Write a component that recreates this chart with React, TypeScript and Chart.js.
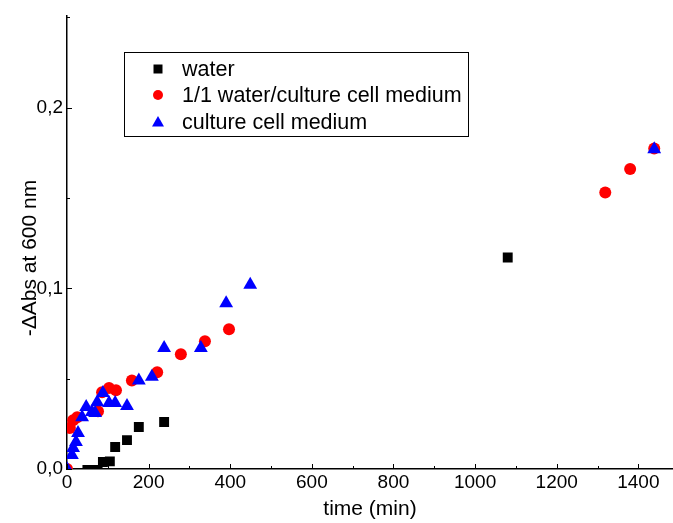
import React, { useEffect, useRef } from 'react';
import { Chart, registerables } from 'chart.js';

Chart.register(...registerables);

// ---- data (time in min, -ΔAbs at 600 nm) ----
const waterTime = [50, 62, 75, 88, 105, 118, 147, 176, 238, 1080];
const waterAbs = [-0.0005, -0.0005, -0.0005, 0.0039, 0.0042, 0.0122, 0.016, 0.0232, 0.026, 0.117];

const mixTime = [0, 7, 15, 25, 76, 86, 103, 120, 159, 221, 279, 338, 397, 1319, 1380, 1439];
const mixAbs = [0, 0.0227, 0.027, 0.0287, 0.032, 0.0425, 0.0448, 0.0436, 0.049, 0.0536, 0.0635, 0.0707, 0.0773, 0.153, 0.166, 0.1773];

const mediumTime = [0, 12, 15, 22, 27, 37, 47, 61, 69, 74, 88, 103, 118, 147, 176, 208, 238, 328, 390, 449, 1439];
const mediumAbs = [0, 0.0077, 0.0116, 0.0149, 0.0199, 0.0287, 0.0343, 0.0315, 0.031, 0.037, 0.042, 0.0365, 0.0365, 0.0348, 0.049, 0.051, 0.0669, 0.0669, 0.0917, 0.102, 0.177];

const seriesLabels = ['water', '1/1 water/culture cell medium', 'culture cell medium'];
const seriesColors = ['#000000', '#ff0000', '#0000ff'];
const seriesStyles = ['rect', 'circle', 'triangle'];

const xTitle = 'time (min)';
const yTitle = '-ΔAbs at 600 nm';

const xMin = 0;
const xMax = 1485;
const xMajorStep = 200;
const xMinorStep = 100;
const yMin = 0;
const yMax = 0.251;
const yMajorStep = 0.1;
const yMinorStep = 0.05;

const FONT = '"Liberation Sans", Arial, sans-serif';

const toPoints = (xs: number[], ys: number[]) => xs.map((x, i) => ({ x, y: ys[i] }));

const decorPlugin = {
  id: 'decor',
  afterDraw(chart: any) {
    const { ctx, chartArea } = chart;
    const xs = chart.scales.x;
    const ys = chart.scales.y;
    ctx.save();
    ctx.strokeStyle = '#000';
    ctx.lineWidth = 1;
    // inside tick marks on x
    const nx = Math.floor((xMax - xMin) / xMinorStep + 1e-9);
    for (let k = 0; k <= nx; k++) {
      const v = xMin + k * xMinorStep;
      const px = Math.round(xs.getPixelForValue(v)) + 0.5;
      const len = Math.abs(v / xMajorStep - Math.round(v / xMajorStep)) < 1e-6 ? 5 : 3;
      ctx.beginPath();
      ctx.moveTo(px, chartArea.bottom);
      ctx.lineTo(px, chartArea.bottom - len);
      ctx.stroke();
    }
    // inside tick marks on y
    const ny = Math.floor((yMax - yMin) / yMinorStep + 1e-9);
    for (let k = 0; k <= ny; k++) {
      const v = yMin + k * yMinorStep;
      const py = Math.round(ys.getPixelForValue(v)) + 0.5;
      const len = Math.abs(v / yMajorStep - Math.round(v / yMajorStep)) < 1e-6 ? 5 : 3;
      ctx.beginPath();
      ctx.moveTo(chartArea.left, py);
      ctx.lineTo(chartArea.left + len, py);
      ctx.stroke();
    }

    // y axis title
    ctx.save();
    ctx.translate(30, 258);
    ctx.rotate(-Math.PI / 2);
    ctx.font = `21px ${FONT}`;
    ctx.fillStyle = '#000';
    ctx.textAlign = 'center';
    ctx.textBaseline = 'middle';
    ctx.fillText(yTitle, 0, 0);
    ctx.restore();

    // legend box
    const bx = 124.5, by = 52.5, bw = 344, bh = 84;
    ctx.strokeStyle = '#000';
    ctx.lineWidth = 1;
    ctx.strokeRect(bx, by, bw, bh);
    const rows = [69, 95, 122];
    const mx = 158;
    const tx = 182;
    ctx.font = `21.5px ${FONT}`;
    ctx.textBaseline = 'middle';
    ctx.textAlign = 'left';
    chart.data.datasets.forEach((ds: any, i: number) => {
      const cy = rows[i];
      ctx.fillStyle = ds.backgroundColor;
      ctx.beginPath();
      if (ds.pointStyle === 'rect') {
        ctx.rect(mx - 4.5, cy - 4.5, 9, 9);
      } else if (ds.pointStyle === 'circle') {
        ctx.arc(mx, cy, 5, 0, Math.PI * 2);
      } else {
        ctx.moveTo(mx, cy - 6);
        ctx.lineTo(mx + 6, cy + 4.5);
        ctx.lineTo(mx - 6, cy + 4.5);
        ctx.closePath();
      }
      ctx.fill();
      ctx.fillStyle = '#000';
      ctx.fillText(ds.label, tx, cy + 1);
    });
    ctx.restore();
  },
};

export default function App() {
  const canvasRef = useRef<HTMLCanvasElement | null>(null);

  useEffect(() => {
    document.body.style.margin = '0';
    const canvas = canvasRef.current;
    if (!canvas) return;
    const chart = new Chart(canvas, {
      type: 'scatter',
      data: {
        datasets: [
          {
            label: seriesLabels[0],
            data: toPoints(waterTime, waterAbs),
            pointStyle: seriesStyles[0] as any,
            pointRadius: 7,
            backgroundColor: seriesColors[0],
            borderWidth: 0,
            borderColor: seriesColors[0],
            order: 2,
            clip: 0,
          },
          {
            label: seriesLabels[1],
            data: toPoints(mixTime, mixAbs),
            pointStyle: seriesStyles[1] as any,
            pointRadius: 6,
            backgroundColor: seriesColors[1],
            borderWidth: 0,
            borderColor: seriesColors[1],
            order: 1,
            clip: 0,
          },
          {
            label: seriesLabels[2],
            data: toPoints(mediumTime, mediumAbs),
            pointStyle: seriesStyles[2] as any,
            pointRadius: 8,
            backgroundColor: seriesColors[2],
            borderWidth: 0,
            borderColor: seriesColors[2],
            order: 0,
            clip: 0,
          },
        ],
      },
      options: {
        animation: false,
        responsive: false,
        maintainAspectRatio: false,
        layout: { autoPadding: false, padding: { top: 15, right: 0, left: 0, bottom: 0 } },
        plugins: {
          legend: { display: false },
          tooltip: { enabled: false },
        },
        scales: {
          x: {
            type: 'linear',
            min: xMin,
            max: xMax,
            afterFit: (s: any) => {
              s.height = 54;
            },
            border: { display: true, color: '#000', width: 1.5 },
            grid: { display: false, drawTicks: false },
            ticks: {
              stepSize: xMajorStep,
              includeBounds: false,
              autoSkip: false,
              maxRotation: 0,
              color: '#000',
              padding: 2,
              font: { family: FONT, size: 19 },
              callback: (v: any) => String(Math.round(Number(v))),
            },
            title: {
              display: true,
              text: xTitle,
              color: '#000',
              font: { family: FONT, size: 21 },
              padding: { top: 0, bottom: 1 },
            },
          },
          y: {
            type: 'linear',
            min: yMin,
            max: yMax,
            afterFit: (s: any) => {
              s.width = 67;
            },
            border: { display: true, color: '#000', width: 1.5 },
            grid: { display: false, drawTicks: false },
            ticks: {
              stepSize: yMajorStep,
              includeBounds: false,
              color: '#000',
              padding: 4,
              font: { family: FONT, size: 19 },
              callback: (v: any) => Number(v).toFixed(1).replace('.', ','),
            },
            title: { display: false },
          },
        },
      },
      plugins: [decorPlugin],
    });
    return () => chart.destroy();
  }, []);

  return (
    <div style={{ width: 673, height: 523 }}>
      <canvas ref={canvasRef} width={673} height={523} style={{ display: 'block' }} />
    </div>
  );
}
